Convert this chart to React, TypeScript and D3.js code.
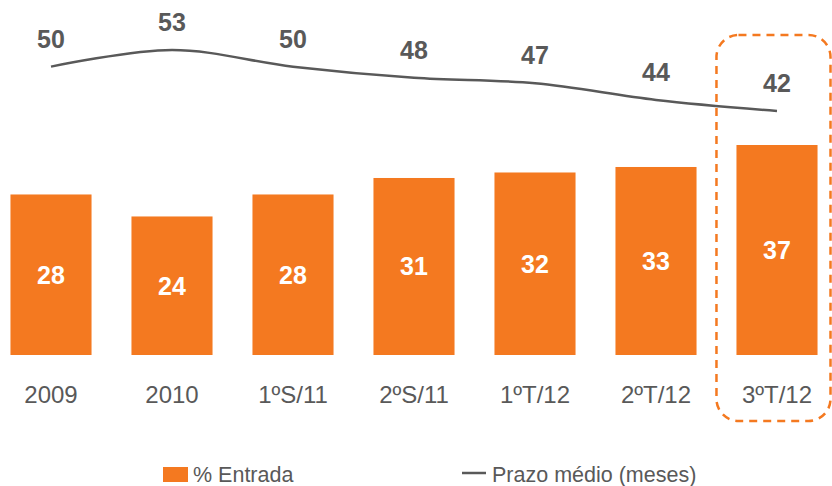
import React from "react";
import * as d3 from "d3";

const categories = ["2009", "2010", "1ºS/11", "2ºS/11", "1ºT/12", "2ºT/12", "3ºT/12"];
const entrada = [28, 24, 28, 31, 32, 33, 37];
const prazo = [50, 53, 50, 48, 47, 44, 42];

const width = 832;
const height = 486;
const orange = "#F47920";
const grey = "#595959";
const font = "'Liberation Sans', Arial, sans-serif";

export default function App() {
    const x = d3.scaleBand<string>()
        .domain(categories)
        .range([-9.5, 837.5])
        .paddingInner(0.33)
        .paddingOuter(0.165);

    const yBar = d3.scaleLinear().domain([-1.2, 37]).range([355, 145]);
    const yLine = d3.scaleLinear().domain([42, 53]).range([111, 50]);

    const cx = (c: string) => (x(c) ?? 0) + x.bandwidth() / 2;

    const line = d3.line<number>()
        .x((d, i) => cx(categories[i]))
        .y((d) => yLine(d))
        .curve(d3.curveCatmullRom.alpha(0.5));

    const last = categories[categories.length - 1];
    const boxX = (x(last) ?? 0) - 20;
    const base = yBar(-1.2);

    return (
        <svg width={width} height={height} style={{ position: "absolute", left: 0, top: 0, display: "block" }}
            fontFamily={font}>
            {/* bars */}
            {entrada.map((v, i) => (
                <g key={categories[i]}>
                    <rect x={x(categories[i])} y={yBar(v)} width={x.bandwidth()}
                        height={base - yBar(v)} fill={orange} />
                    <text x={cx(categories[i])} y={(yBar(v) + base) / 2 + 9} textAnchor="middle"
                        fontSize={25} fontWeight="bold" fill="#fff">{v}</text>
                    <text x={cx(categories[i])} y={403} textAnchor="middle" fontSize={24} fill={grey}>
                        {categories[i]}
                    </text>
                </g>
            ))}

            {/* line */}
            <path d={line(prazo) ?? ""} fill="none" stroke={grey} strokeWidth={2.5} />
            {prazo.map((v, i) => (
                <text key={i} x={cx(categories[i])} y={yLine(v) - 19} textAnchor="middle"
                    fontSize={25} fontWeight="bold" fill={grey}>{v}</text>
            ))}

            {/* highlight box */}
            <rect x={boxX} y={35} width={width - 1.5 - boxX} height={386} rx={22} ry={22}
                fill="none" stroke={orange} strokeWidth={2.5} strokeDasharray="8 6" />

            {/* legend */}
            <rect x={163} y={467} width={25} height={15} fill={orange} />
            <text x={193} y={482} fontSize={21.5} fill={grey}>% Entrada</text>
            <line x1={462} x2={486} y1={473} y2={473} stroke={grey} strokeWidth={2.5} />
            <text x={492} y={482} fontSize={21.5} fill={grey}>Prazo médio (meses)</text>
        </svg>
    );
}
